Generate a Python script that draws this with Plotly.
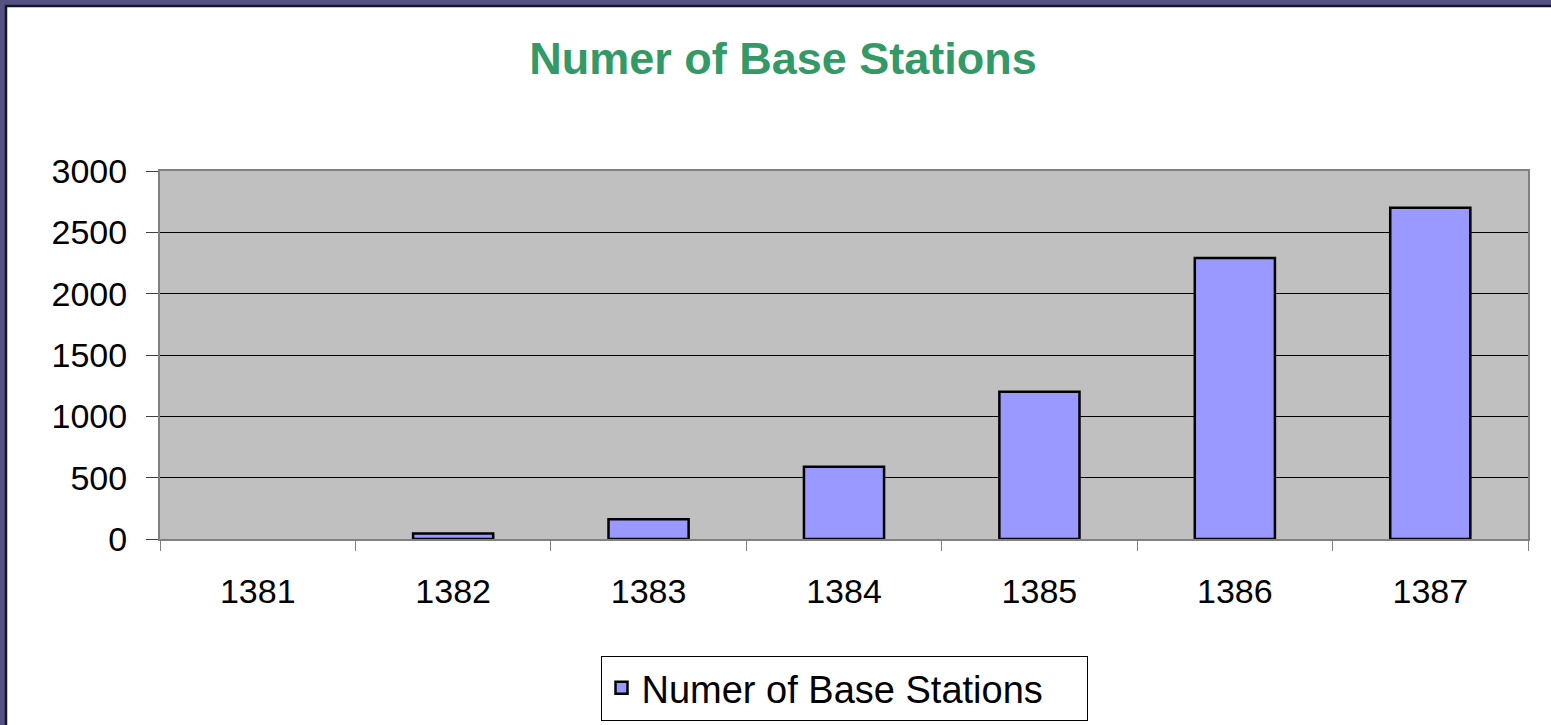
import plotly.graph_objects as go

years = ["1381", "1382", "1383", "1384", "1385", "1386", "1387"]
stations = [None, 45, 160, 590, 1200, 2290, 2700]
series_name = "Numer of Base Stations"
title_text = "Numer of Base Stations"
y_ticks = [0, 500, 1000, 1500, 2000, 2500, 3000]

W, H = 1551, 725
L, R, T, B = 160, 23, 171, 186
pw, ph = W - L - R, H - T - B


def px_x(p):
    return (p - L) / pw


def px_y(p):
    return (H - B - p) / ph


FONT = "Liberation Sans, Arial, sans-serif"

fig = go.Figure()
fig.add_trace(go.Bar(
    x=years, y=stations, name=series_name,
    marker=dict(color="#9999ff", line=dict(color="black", width=2.5)),
    showlegend=True,
))

shapes = [
    # white slide area
    dict(type="rect", xref="paper", yref="paper", layer="below",
         x0=px_x(6), x1=px_x(W + 40), y0=px_y(H + 40), y1=px_y(6),
         fillcolor="white", line=dict(color="#15152a", width=2.5)),
    # plot area background
    dict(type="rect", xref="paper", yref="paper", layer="below",
         x0=0, x1=1, y0=0, y1=1, fillcolor="#c0c0c0", line=dict(width=0)),
]

fig.update_layout(
    width=W, height=H,
    margin=dict(l=L, r=R, t=T, b=B, pad=0, autoexpand=False),
    paper_bgcolor="#555283",
    plot_bgcolor="rgba(0,0,0,0)",
    shapes=shapes,
    title=dict(text=title_text, xref="container", x=783 / W, xanchor="center",
               yref="container", y=1 - 58 / H, yanchor="middle",
               font=dict(family=FONT, size=45, color="#339966", weight="bold")),
    bargap=0.59,
    showlegend=True,
    legend=dict(orientation="h", x=0.5, xanchor="center",
                y=px_y(688), yanchor="middle",
                bgcolor="white", bordercolor="black", borderwidth=1,
                font=dict(family=FONT, size=38, color="black"),
                entrywidth=440, itemwidth=30),
    font=dict(family=FONT, color="black"),
)

fig.update_xaxes(
    type="category", tickson="boundaries",
    showline=True, linecolor="#808080", linewidth=2, mirror=True,
    ticks="outside", ticklen=10, tickcolor="#808080", tickwidth=1,
    tickfont=dict(family=FONT, size=34, color="black"),
    ticklabelstandoff=21,
    showgrid=False, zeroline=False,
)
fig.update_yaxes(
    range=[0, 3000], tickvals=y_ticks,
    showline=True, linecolor="#808080", linewidth=2, mirror=True,
    ticks="outside", ticklen=12, tickcolor="#404040", tickwidth=1,
    tickfont=dict(family=FONT, size=34, color="black"),
    ticklabelstandoff=12,
    showgrid=True, gridcolor="black", gridwidth=1,
    zeroline=False,
)

fig.write_html(
    "out.html",
    config={"displayModeBar": False},
    post_script="document.body.style.margin='0';document.body.style.padding='0';"
                "document.body.style.overflow='hidden';",
)
